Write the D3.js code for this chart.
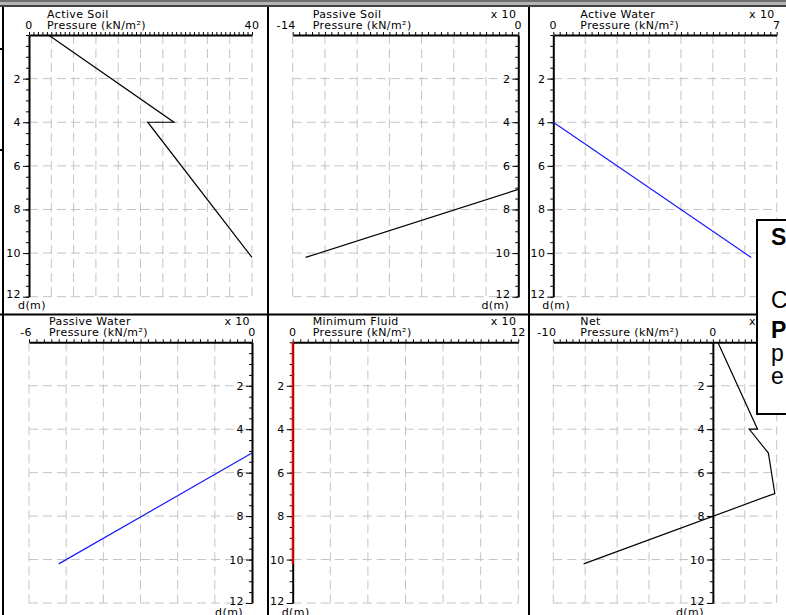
<!DOCTYPE html>
<html>
<head>
<meta charset="utf-8">
<script src="https://cdn.jsdelivr.net/npm/d3@7/dist/d3.min.js"></script>
<style>
  html, body { margin: 0; padding: 0; background: #fff; }
  svg { display: block; }
  .lbl { font-family: "DejaVu Sans", sans-serif; font-size: 11px; letter-spacing: 0.4px; fill: #000; }
  .note { font-family: "Liberation Sans", Arial, sans-serif; font-size: 23px; fill: #000; }
</style>
</head>
<body>
<svg id="chart" width="786" height="615"></svg>
<script>
// Depth axis (m), shared by every diagram
const depthDomain = [0, 12];
const depthLabels = [2, 4, 6, 8, 10, 12];

// Pressure profiles, pressure in kN/m² against depth in m
const activeSoilPressure = [3.5, 26, 21.3, 40];
const activeSoilDepth    = [0, 4, 4, 10.2];

const passiveSoilPressure = [-132, 0];
const passiveSoilDepth    = [10.2, 7.08];

const activeWaterPressure = [0, 62];
const activeWaterDepth    = [4, 10.2];

const passiveWaterPressure = [0, -52];
const passiveWaterDepth    = [5.1, 10.2];

const minFluidPressure = [0, 0];
const minFluidDepth    = [0, 10.2];

const netPressure = [3.1, 28, 22.8, 34.8, 38.8, -81];
const netDepth    = [0, 4, 4, 5.1, 6.96, 10.2];

// Pressure axis of each diagram: domain, grid step, multiplier note
const titles      = ["Active Soil", "Passive Soil", "Active Water", "Passive Water", "Minimum Fluid", "Net"];
const xDomains    = [[0, 40], [-140, 0], [0, 70], [-60, 0], [0, 120], [-100, 40]];
const xGridSteps  = [4, 20, 10, 10, 20, 20];
const xMultiplier = [1, 10, 10, 10, 10, 10];
const unitLine    = "Pressure (kN/m²)";

const series = [
  { p: activeSoilPressure,   d: activeSoilDepth,   color: "#000000", w: 1.2 },
  { p: passiveSoilPressure,  d: passiveSoilDepth,  color: "#000000", w: 1.2 },
  { p: activeWaterPressure,  d: activeWaterDepth,  color: "#1a1aff", w: 1.2 },
  { p: passiveWaterPressure, d: passiveWaterDepth, color: "#1a1aff", w: 1.2 },
  { p: minFluidPressure,     d: minFluidDepth,     color: "#ff0000", w: 2 },
  { p: netPressure,          d: netDepth,          color: "#000000", w: 1.2 }
];

// Plot frames (pixels) for the 3 x 2 grid of diagrams
const colX   = [[29, 252], [292.7, 518.3], [553.3, 776.7]];
const rowY   = [[35, 296.7], [342.3, 603]];
const titleDx = [18, 20, 27, 20, 20, 27];

const svg = d3.select("#chart");

// window chrome and panel separators
svg.append("rect").attr("x", 0).attr("y", 0).attr("width", 786).attr("height", 2).attr("fill", "#707070");
svg.append("rect").attr("x", 0).attr("y", 2).attr("width", 786).attr("height", 3).attr("fill", "#b4b4b4");
svg.append("rect").attr("x", 0).attr("y", 5).attr("width", 786).attr("height", 2).attr("fill", "#404040");
const frame = svg.append("g").attr("stroke", "#000").attr("stroke-width", 2);
frame.append("line").attr("x1", 3).attr("x2", 3).attr("y1", 7).attr("y2", 615);
frame.append("line").attr("x1", 268).attr("x2", 268).attr("y1", 7).attr("y2", 615);
frame.append("line").attr("x1", 529).attr("x2", 529).attr("y1", 7).attr("y2", 615);
frame.append("line").attr("x1", 0).attr("x2", 786).attr("y1", 314.5).attr("y2", 314.5);
frame.append("line").attr("x1", 0).attr("x2", 3).attr("y1", 49).attr("y2", 49);
frame.append("line").attr("x1", 0).attr("x2", 3).attr("y1", 150).attr("y2", 150);

const fmt = (v, m) => String(Math.round(v / m));

titles.forEach((title, i) => {
  const [x0, x1] = colX[i % 3];
  const [y0, y1] = rowY[Math.floor(i / 3)];
  const dom = xDomains[i];
  const step = xGridSteps[i];
  const mult = xMultiplier[i];

  const x = d3.scaleLinear().domain(dom).range([x0, x1]);
  const y = d3.scaleLinear().domain(depthDomain).range([y0, y1]);
  const g = svg.append("g");

  const gridX = d3.range(dom[0], dom[1] + step / 2, step);
  const minorX = d3.range(dom[0], dom[1] + step / 10, step / 5);
  const axisX = x(0);

  // dashed grid
  g.append("g").selectAll("line").data(gridX.filter(v => v !== 0)).join("line")
    .attr("x1", d => x(d)).attr("x2", d => x(d)).attr("y1", y0).attr("y2", y1)
    .attr("stroke", "#c4c4c4").attr("stroke-width", 1).attr("stroke-dasharray", "9,5");
  g.append("g").selectAll("line").data(depthLabels).join("line")
    .attr("x1", x0).attr("x2", x1).attr("y1", d => y(d)).attr("y2", d => y(d))
    .attr("stroke", "#c4c4c4").attr("stroke-width", 1).attr("stroke-dasharray", "9,5");

  // pressure axis along the top
  const xa = g.append("g").attr("transform", `translate(0,${y0})`)
    .call(d3.axisTop(x).tickValues(minorX).tickSize(3).tickSizeOuter(0).tickFormat(""));
  xa.select(".domain").attr("stroke-width", 2);
  xa.selectAll(".tick line").attr("stroke-width", 1);

  // depth axis at zero pressure
  const ya = g.append("g").attr("transform", `translate(${axisX},0)`)
    .call(d3.axisLeft(y).tickValues(d3.range(0, 12.01, 0.5)).tickSize(3).tickSizeOuter(0).tickFormat(""));
  ya.select(".domain").attr("stroke-width", 2);
  const yb = g.append("g").attr("transform", `translate(${axisX},0)`)
    .call(d3.axisLeft(y).tickValues(depthLabels).tickSize(6).tickPadding(2).tickFormat(d3.format("d")));
  yb.select(".domain").remove();
  yb.selectAll("text").attr("class", "lbl").attr("font-size", null).attr("font-family", null)
    .attr("dy", d => d === 12 ? "0.1em" : "0.32em");

  // end labels of the pressure axis
  [dom[0], dom[1]].forEach(v => {
    const t = g.append("text").attr("class", "lbl").attr("y", y0 - 6).text(fmt(v, mult));
    if (v < 0) t.attr("x", x(v) + 3).attr("text-anchor", "end");
    else t.attr("x", x(v)).attr("text-anchor", "middle");
  });
  if (dom[0] < 0 && dom[1] > 0) {
    g.append("text").attr("class", "lbl").attr("x", axisX).attr("y", y0 - 6)
      .attr("text-anchor", "middle").text("0");
  }

  // titles
  g.append("text").attr("class", "lbl").attr("x", x0 + titleDx[i]).attr("y", y0 - 17).text(title);
  g.append("text").attr("class", "lbl").attr("x", x0 + titleDx[i]).attr("y", y0 - 6).text(unitLine);
  if (mult !== 1) {
    g.append("text").attr("class", "lbl").attr("x", x1 - 2).attr("y", y0 - 17)
      .attr("text-anchor", "end").text("x " + mult);
  }

  // depth unit under the axis
  const dl = g.append("text").attr("class", "lbl").attr("y", y1 + 12.5).text("d(m)");
  if (axisX - x0 < 5) dl.attr("x", axisX - 11);
  else dl.attr("x", axisX - 9).attr("text-anchor", "end");

  // profile
  const s = series[i];
  const pts = s.p.map((v, k) => [v, s.d[k]]);
  g.append("path").datum(pts)
    .attr("d", d3.line().x(d => x(d[0])).y(d => y(d[1])))
    .attr("fill", "none").attr("stroke", s.color).attr("stroke-width", s.w);
});

// overlapping note window
const note = svg.append("g");
note.append("rect").attr("x", 757).attr("y", 220).attr("width", 40).attr("height", 194)
  .attr("fill", "#fff").attr("stroke", "#000").attr("stroke-width", 2);
note.append("text").attr("class", "note").attr("x", 771).attr("y", 245).attr("font-weight", "bold").text("S");
note.append("text").attr("class", "note").attr("x", 771).attr("y", 308).text("C");
note.append("text").attr("class", "note").attr("x", 771).attr("y", 338).attr("font-weight", "bold").text("P");
note.append("text").attr("class", "note").attr("x", 771).attr("y", 361).text("p");
note.append("text").attr("class", "note").attr("x", 771).attr("y", 384).text("e");
</script>
</body>
</html>
